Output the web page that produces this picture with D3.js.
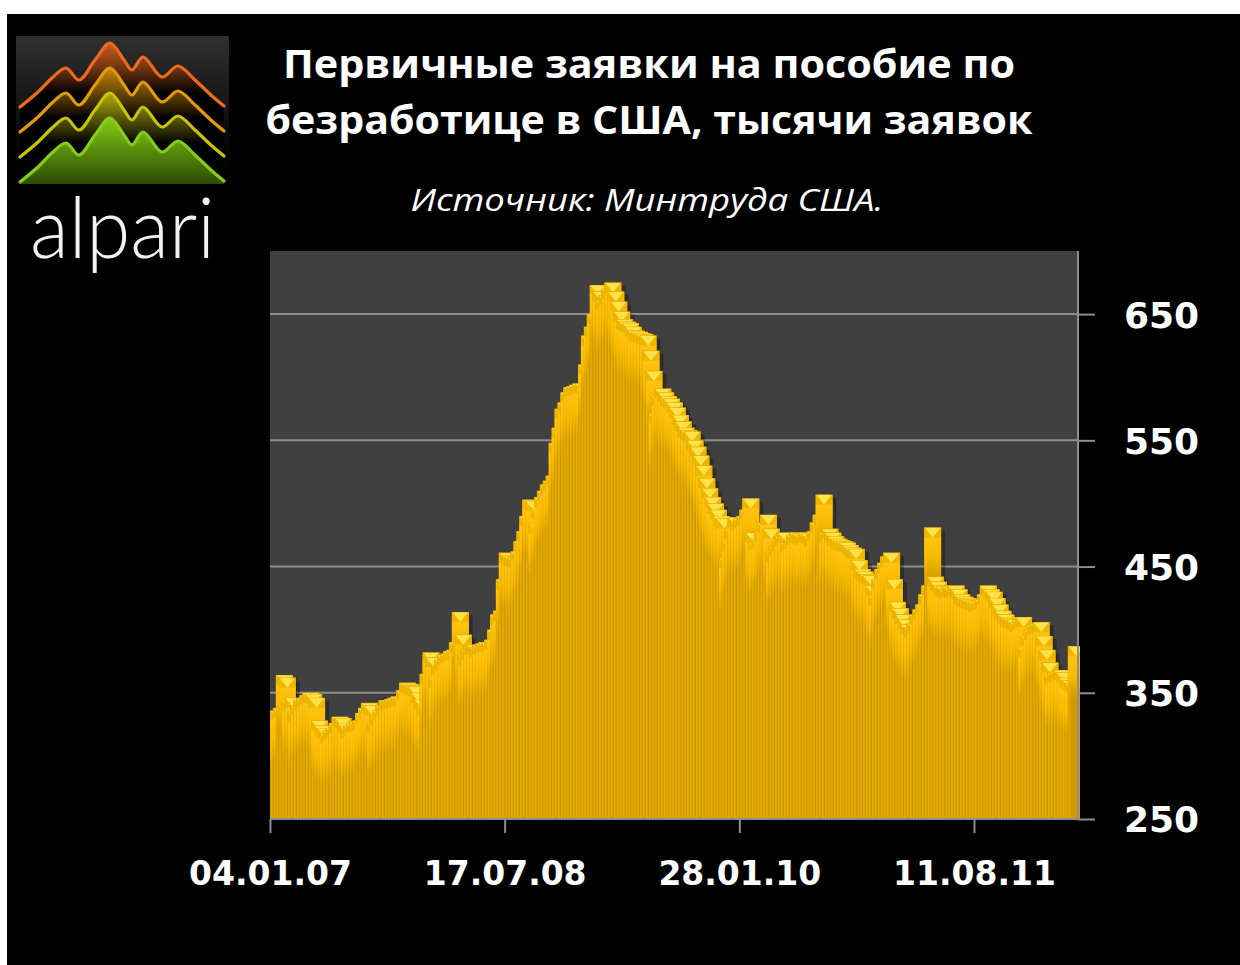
<!DOCTYPE html>
<html>
<head>
<meta charset="utf-8">
<script src="https://cdnjs.cloudflare.com/ajax/libs/d3/7.8.5/d3.min.js"></script>
<style>
  html, body { margin: 0; padding: 0; background: #fff; }
  svg { display: block; }
</style>
</head>
<body>
<script>
'use strict';

// weekly initial claims, thousands, starting 04.01.07
const claims = [
  336, 338, 364, 362, 344, 346, 334, 340, 344, 346, 348, 350, 349, 346, 328, 324, 322, 318, 320, 322,
  326, 331, 330, 326, 322, 324, 326, 327, 328, 334, 338, 342, 340, 326, 332, 336, 340, 344, 344, 345,
  346, 347, 347, 352, 358, 357, 356, 355, 350, 345, 340, 365, 382, 378, 362, 372, 376, 380, 381, 383,
  384, 390, 414, 396, 380, 384, 388, 388, 386, 388, 389, 390, 390, 392, 400, 412, 415, 440, 461, 459,
  458, 457, 462, 470, 478, 490, 503, 502, 484, 496, 505, 510, 515, 518, 522, 548, 560, 575, 580, 588,
  592, 593, 594, 595, 595, 610, 633, 640, 650, 673, 668, 661, 665, 670, 675, 668, 660, 652, 646, 644,
  643, 640, 637, 636, 635, 634, 633, 621, 605, 571, 585, 591, 588, 585, 583, 580, 576, 570, 565, 560,
  558, 557, 550, 545, 538, 530, 520, 512, 505, 500, 495, 490, 488, 457, 470, 480, 489, 486, 488, 490,
  495, 504, 477, 469, 472, 478, 485, 491, 480, 461, 466, 470, 474, 477, 469, 472, 475, 477, 476, 475,
  477, 476, 474, 478, 485, 491, 507, 477, 480, 477, 474, 472, 471, 470, 469, 467, 465, 464, 455, 448,
  446, 444, 443, 435, 427, 440, 448, 453, 458, 461, 440, 422, 417, 412, 408, 404, 402, 405, 412, 416,
  420, 428, 435, 481, 442, 438, 435, 434, 432, 434, 433, 435, 432, 428, 426, 425, 424, 423, 422, 423,
  424, 428, 435, 432, 430, 425, 420, 415, 412, 410, 409, 408, 406, 408, 410, 386, 395, 400, 404, 405,
  406, 395, 384, 374, 364, 366, 367, 368, 366, 362, 360, 358, 387
];
const tickIndex = [0, 80, 160, 240];
const tickLabels = ['04.01.07', '17.07.08', '28.01.10', '11.08.11'];
const yTicks = [250, 350, 450, 550, 650];
const titleLines = ['Первичные заявки на пособие по', 'безработице в США, тысячи заявок'];
const subtitle = 'Источник: Минтруда США.';

const W = 1240, H = 965;
const N = claims.length;
const L = 270, R = 1078, T = 251, B = 819;
const BW = 17;   // drawn column width (columns overlap like the 3D original)
const CAP = 10;  // bevel cap height

const svg = d3.select('body').append('svg')
  .attr('xmlns', 'http://www.w3.org/2000/svg')
  .attr('width', W).attr('height', H)
  .attr('viewBox', `0 0 ${W} ${H}`);

svg.append('rect').attr('width', W).attr('height', H).attr('fill', '#fff');
svg.append('rect').attr('x', 7).attr('y', 14).attr('width', W - 7).attr('height', H - 14).attr('fill', '#000');

const defs = svg.append('defs');

// ---- logo ----
const sq = defs.append('linearGradient').attr('id', 'sqGrad')
  .attr('x1', 0).attr('x2', 0).attr('y1', 0).attr('y2', 1);
sq.append('stop').attr('offset', '0%').attr('stop-color', '#303030');
sq.append('stop').attr('offset', '75%').attr('stop-color', '#050505');
sq.append('stop').attr('offset', '100%').attr('stop-color', '#000');
svg.append('rect').attr('x', 16).attr('y', 36).attr('width', 213).attr('height', 148).attr('fill', 'url(#sqGrad)');

const logoPts = [[20, 107], [38, 92], [52, 78], [66, 68], [79, 80], [95, 60], [110, 43], [124, 60],
  [132, 70], [143, 57], [162, 77], [178, 66], [195, 80], [212, 96], [224, 106]];
const logoColors = ['#f06a1e', '#e29a06', '#c6c40a', '#84cc18'];
const logoDark = ['#000', '#000', '#000', '#2c4a00'];
const logoStep = 25;
defs.append('clipPath').attr('id', 'logoClip')
  .append('rect').attr('x', 16).attr('y', 36).attr('width', 213).attr('height', 148);
const logo = svg.append('g').attr('clip-path', 'url(#logoClip)');
logoColors.forEach((c, k) => {
  const off = k * logoStep;
  const g = defs.append('linearGradient').attr('id', 'lg' + k)
    .attr('gradientUnits', 'userSpaceOnUse')
    .attr('x1', 0).attr('x2', 0).attr('y1', 43 + off).attr('y2', k === 3 ? 184 : 43 + off + 50);
  g.append('stop').attr('offset', '0%').attr('stop-color', c).attr('stop-opacity', k === 3 ? 1 : 0.8);
  g.append('stop').attr('offset', '100%').attr('stop-color', logoDark[k]);
  const area = d3.area().curve(d3.curveCatmullRom.alpha(0.5))
    .x(p => p[0]).y0(184).y1(p => p[1] + off);
  logo.append('path').attr('d', area(logoPts)).attr('fill', `url(#lg${k})`);
  const line = d3.line().curve(d3.curveCatmullRom.alpha(0.5)).x(p => p[0]).y(p => p[1] + off);
  logo.append('path').attr('d', line(logoPts)).attr('fill', 'none')
    .attr('stroke', c).attr('stroke-width', 3.2).attr('stroke-linecap', 'round');
});
svg.append('text').attr('x', 30).attr('y', 258)
  .attr('font-family', 'Lato, "Open Sans", sans-serif').attr('font-weight', 300)
  .attr('font-size', 84).attr('fill', '#f2f2f2')
  .attr('textLength', 185).attr('lengthAdjust', 'spacingAndGlyphs')
  .text('alpari');

// ---- titles ----
const titleLen = [732, 767];
titleLines.forEach((t, i) => {
  svg.append('text').attr('x', 649).attr('y', 78 + i * 56)
    .attr('text-anchor', 'middle')
    .attr('font-family', '"Open Sans", sans-serif').attr('font-weight', 700)
    .attr('font-size', 40).attr('fill', '#fff')
    .attr('textLength', titleLen[i]).attr('lengthAdjust', 'spacingAndGlyphs')
    .text(t);
});
svg.append('text').attr('x', 647).attr('y', 211)
  .attr('text-anchor', 'middle')
  .attr('font-family', '"Open Sans", sans-serif').attr('font-style', 'italic')
  .attr('font-size', 31).attr('fill', '#fff')
  .attr('textLength', 473).attr('lengthAdjust', 'spacingAndGlyphs')
  .text(subtitle);

// ---- scales ----
const x = d3.scaleLinear().domain([0, N]).range([L, L + N * (974 - L) / 240]);
const y = d3.scaleLinear().domain([250, 700]).range([B, T]);

// plot area
svg.append('rect').attr('x', L).attr('y', T).attr('width', R - L).attr('height', B - T).attr('fill', '#404040');

svg.append('g').selectAll('line').data(yTicks.slice(1)).join('line')
  .attr('x1', L).attr('x2', R).attr('y1', d => y(d)).attr('y2', d => y(d))
  .attr('stroke', '#8e8e8e').attr('stroke-width', 2);

// gradients for bars
const bodyG = defs.append('linearGradient').attr('id', 'bodyGrad')
  .attr('x1', 0).attr('x2', 1).attr('y1', 0).attr('y2', 0);
[['0%', '#c28e00'], ['6%', '#e8b000'], ['14%', '#dca400'], ['18%', '#d09a00'], ['100%', '#d39c00']]
  .forEach(s => bodyG.append('stop').attr('offset', s[0]).attr('stop-color', s[1]));
const topG = defs.append('linearGradient').attr('id', 'topGrad')
  .attr('x1', 0).attr('x2', 0).attr('y1', 0).attr('y2', 1);
topG.append('stop').attr('offset', '0%').attr('stop-color', '#ffc414').attr('stop-opacity', 1);
topG.append('stop').attr('offset', '45%').attr('stop-color', '#ffc000').attr('stop-opacity', 0.85);
topG.append('stop').attr('offset', '100%').attr('stop-color', '#ffc000').attr('stop-opacity', 0);

defs.append('clipPath').attr('id', 'plotClip')
  .append('rect').attr('x', L).attr('y', T).attr('width', R + 2 - L).attr('height', B - T);

const plot = svg.append('g').attr('clip-path', 'url(#plotClip)');

// soft shadow behind all columns
plot.append('g').selectAll('rect').data(claims).join('rect')
  .attr('x', (d, i) => x(i) + 4).attr('y', d => y(d) + 3)
  .attr('width', BW).attr('height', d => B - y(d))
  .attr('fill', '#000').attr('opacity', 0.28);

const bars = plot.append('g').selectAll('g').data(claims).join('g');
bars.append('rect')
  .attr('x', (d, i) => x(i)).attr('y', d => y(d))
  .attr('width', BW).attr('height', d => B - y(d))
  .attr('fill', 'url(#bodyGrad)');
bars.append('rect')
  .attr('x', (d, i) => x(i)).attr('y', d => y(d) + CAP - 1)
  .attr('width', BW).attr('height', d => Math.min(44, B - y(d) - CAP))
  .attr('fill', 'url(#topGrad)');
bars.append('rect')
  .attr('x', (d, i) => x(i)).attr('y', d => y(d))
  .attr('width', BW).attr('height', CAP)
  .attr('fill', '#efb600');
bars.append('path')
  .attr('d', (d, i) => {
    const x0 = x(i), y0 = y(d);
    return `M${x0 + 1},${y0 + 0.5}L${x0 + BW - 1},${y0 + 0.5}L${x0 + BW / 2},${y0 + CAP}Z`;
  })
  .attr('fill', '#ffe24a');

// ---- axes ----
const yAxis = svg.append('g').attr('transform', `translate(${R},0)`)
  .call(d3.axisRight(y).tickValues(yTicks).tickSize(17).tickPadding(29));
yAxis.select('.domain').attr('stroke', '#8e8e8e').attr('stroke-width', 2)
  .attr('d', `M0,${T}V${B}`);
yAxis.selectAll('.tick line').attr('stroke', '#8e8e8e').attr('stroke-width', 2);
yAxis.selectAll('.tick text')
  .attr('fill', '#fff').attr('font-family', '"DejaVu Sans", sans-serif')
  .attr('font-weight', 700).attr('font-size', 36).attr('dy', '0.36em');

svg.append('line').attr('x1', L).attr('x2', R).attr('y1', B).attr('y2', B)
  .attr('stroke', '#8e8e8e').attr('stroke-width', 2);

const xAxis = svg.append('g').attr('transform', `translate(0,${B})`)
  .call(d3.axisBottom(x).tickValues(tickIndex).tickSize(14).tickPadding(29)
    .tickFormat((d, i) => tickLabels[i]));
xAxis.select('.domain').remove();
xAxis.selectAll('.tick line').attr('stroke', '#8e8e8e').attr('stroke-width', 2);
xAxis.selectAll('.tick text')
  .attr('fill', '#fff').attr('font-family', '"DejaVu Sans", sans-serif')
  .attr('font-weight', 700).attr('font-size', 33);
</script>
</body>
</html>
